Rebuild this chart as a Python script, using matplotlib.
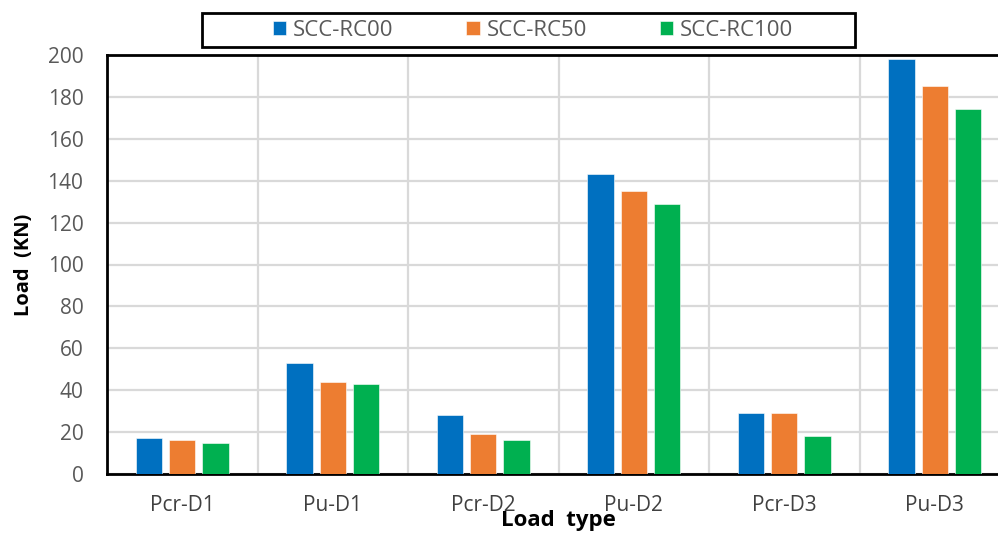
import matplotlib.pyplot as plt
import numpy as np
from matplotlib.patches import Rectangle

plt.rcParams["font.family"] = ["Open Sans", "DejaVu Sans"]

categories = ["Pcr-D1", "Pu-D1", "Pcr-D2", "Pu-D2", "Pcr-D3", "Pu-D3"]
series_names = ["SCC-RC00", "SCC-RC50", "SCC-RC100"]
rc00 = [17, 53, 28, 143, 29, 198]
rc50 = [16, 44, 19, 135, 29, 185]
rc100 = [15, 43, 16, 129, 18, 174]
colors = ["#0070C0", "#ED7D31", "#00B050"]

fig = plt.figure(figsize=(9.98, 5.37), dpi=100)
ax = fig.add_axes([107 / 998, 1 - 474 / 537, 903 / 998, 419 / 537])

x = np.arange(len(categories))
width = 0.175
offsets = [-0.22, 0.0, 0.22]
handles = []
for values, name, color, off in zip([rc00, rc50, rc100], series_names, colors, offsets):
    h = ax.bar(x + off, values, width, color=color, label=name,
               edgecolor="white", linewidth=0.4, zorder=3)
    handles.append(h)

ax.set_xlim(-0.5, len(categories) - 0.5)
ax.set_ylim(0, 200)
ax.set_yticks(np.arange(0, 201, 20))
ax.set_xticks(x)
ax.set_xticklabels(categories)

# vertical separators between categories
ax.set_xticks(np.arange(0.5, len(categories) - 0.5, 1), minor=True)
ax.grid(axis="y", which="major", color="#d9d9d9", linewidth=1.6, zorder=0)
ax.grid(axis="x", which="minor", color="#d9d9d9", linewidth=1.6, zorder=0)
ax.tick_params(axis="x", which="both", length=0, pad=15, labelsize=15, labelcolor="#404040")
ax.tick_params(axis="y", length=0, pad=17, labelsize=15, labelcolor="#595959")

for side in ["left", "bottom", "top"]:
    ax.spines[side].set_linewidth(2)
    ax.spines[side].set_color("black")
ax.spines["right"].set_visible(False)

ax.set_ylabel("Load  (KN)", fontsize=14.5, fontweight="bold", labelpad=10)
ax.set_xlabel("Load  type", fontsize=16, fontweight="bold", labelpad=-4)

# legend box drawn by hand so it matches the wide frame
fig.patches.append(Rectangle((202 / 998, 1 - 47 / 537), 653 / 998, 34 / 537,
                             transform=fig.transFigure, fill=False,
                             edgecolor="black", linewidth=2))
leg = fig.legend(handles=handles, loc="center", bbox_to_anchor=(533 / 998, 1 - 30 / 537),
                 ncol=3, frameon=False, fontsize=16, handlelength=0.6, handleheight=0.6,
                 handletextpad=0.3, columnspacing=3.3)
for t in leg.get_texts():
    t.set_color("#595959")

fig.savefig("out.png", dpi=100)
